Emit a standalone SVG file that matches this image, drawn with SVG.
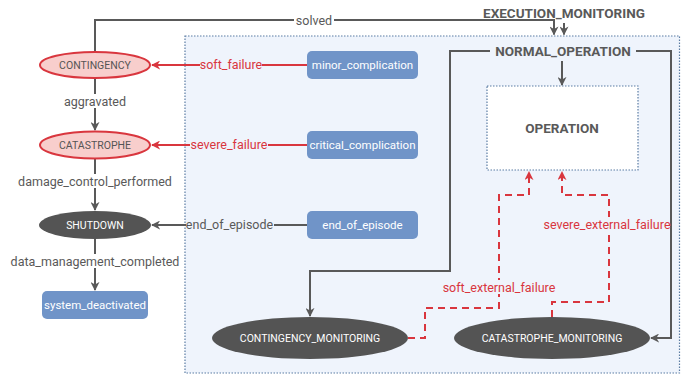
<svg xmlns="http://www.w3.org/2000/svg" width="681" height="375" viewBox="0 0 681 375">
<defs>
<marker id="ag" viewBox="0 0 10 10" refX="9" refY="5" markerWidth="9" markerHeight="9" markerUnits="userSpaceOnUse" orient="auto"><path d="M0,0 L10,5 L0,10 L3,5 Z" fill="#595959"/></marker>
<marker id="ar" viewBox="0 0 10 10" refX="9" refY="5" markerWidth="9" markerHeight="9" markerUnits="userSpaceOnUse" orient="auto"><path d="M0,0 L10,5 L0,10 L3,5 Z" fill="#d9363e"/></marker>
</defs>
<style>
text{font-family:Roboto,"Liberation Sans",sans-serif;}
.lbl{font-size:12.5px;fill:#595959;text-anchor:middle;dominant-baseline:central;}
.rl{font-size:12.5px;fill:#d9363e;text-anchor:middle;dominant-baseline:central;}
.g{fill:none;stroke:#595959;stroke-width:2;}
.r{fill:none;stroke:#d9363e;stroke-width:2;}
.rd{fill:none;stroke:#d9363e;stroke-width:2;stroke-dasharray:7,5;}
.red{fill:#f8cecc;stroke:#d9363e;stroke-width:2;}
.dark{fill:#545454;}
.blue{fill:#7094c8;}
.nt{font-size:10.5px;fill:#555;text-anchor:middle;dominant-baseline:central;}
.wt{font-size:10.5px;fill:#fff;text-anchor:middle;dominant-baseline:central;}
.bt{font-size:11.5px;fill:#fff;text-anchor:middle;dominant-baseline:central;}
.hd{font-size:13.5px;font-weight:bold;fill:#595959;text-anchor:middle;dominant-baseline:central;}
</style>
<g id="EXECUTION_MONITORING">
<rect x="185" y="36" width="494.5" height="337" fill="#eff4fc" stroke="#5b7ca3" stroke-width="1.2" stroke-dasharray="1.5,1.5"/>
<text class="hd" x="564" y="13">EXECUTION_MONITORING</text>
</g>
<g id="OPERATION">
<rect x="487" y="86" width="151" height="84" fill="#fff" stroke="#5b7ca3" stroke-width="1.2" stroke-dasharray="1.5,1.5"/>
<text class="hd" x="562" y="128">OPERATION</text>
</g>
<g id="edges">
<path class="g" d="M95,52 V20 H554 V34.5" marker-end="url(#ag)"/>
<rect x="294" y="13" width="40" height="14" fill="#fff"/>
<text class="lbl" x="314" y="20">solved</text>
<path class="g" d="M564,23 V34.5" marker-end="url(#ag)"/>
<path class="g" d="M562,61 V85" marker-end="url(#ag)"/>
<path class="g" d="M490,51 H450 V271 H310 V316" marker-end="url(#ag)"/>
<path class="g" d="M636,51 H671 V338 H651" marker-end="url(#ag)"/>
<path class="r" d="M307,65 H152" marker-end="url(#ar)"/>
<rect x="200" y="58" width="62" height="14" fill="#eff4fc"/>
<text class="rl" x="231" y="64">soft_failure</text>
<path class="r" d="M307,145 H152" marker-end="url(#ar)"/>
<rect x="190" y="138" width="78" height="14" fill="#eff4fc"/>
<text class="rl" x="229" y="144">severe_failure</text>
<path class="g" d="M307,225 H152" marker-end="url(#ag)"/>
<rect x="186" y="218" width="88" height="14" fill="#eff4fc"/>
<text class="lbl" x="229.5" y="224">end_of_episode</text>
<path class="g" d="M95,78 V130" marker-end="url(#ag)"/>
<rect x="60" y="94" width="70" height="14" fill="#fff"/>
<text class="lbl" x="95" y="101">aggravated</text>
<path class="g" d="M95,159 V210" marker-end="url(#ag)"/>
<rect x="20" y="174" width="150" height="14" fill="#fff"/>
<text class="lbl" x="95" y="181">damage_control_performed</text>
<path class="g" d="M95,239 V290" marker-end="url(#ag)"/>
<rect x="12" y="254" width="166" height="14" fill="#fff"/>
<text class="lbl" x="95" y="261">data_management_completed</text>
<path class="rd" d="M408,338 H425 V308 H499 V195 H529 V172" marker-end="url(#ar)"/>
<rect x="443" y="280" width="112" height="14" fill="#eff4fc"/>
<text class="rl" x="499" y="287">soft_external_failure</text>
<path class="rd" d="M552,317 V302 H609 V195 H562 V172" marker-end="url(#ar)"/>
<rect x="545" y="217" width="124" height="14" fill="#eff4fc"/>
<text class="rl" x="607" y="224">severe_external_failure</text>
</g>
<g id="NORMAL_OPERATION">
<text class="hd" x="563" y="51">NORMAL_OPERATION</text>
</g>
<g id="CONTINGENCY">
<ellipse class="red" cx="95" cy="65" rx="55" ry="13"/>
<text class="nt" x="95" y="65">CONTINGENCY</text>
</g>
<g id="CATASTROPHE">
<ellipse class="red" cx="95" cy="145" rx="55" ry="13.5"/>
<text class="nt" x="95" y="145">CATASTROPHE</text>
</g>
<g id="SHUTDOWN">
<ellipse class="dark" cx="95" cy="225" rx="56" ry="14"/>
<text class="wt" x="95" y="225">SHUTDOWN</text>
</g>
<g id="system_deactivated">
<rect class="blue" x="42" y="291" width="106" height="28" rx="5"/>
<text class="bt" x="95" y="305">system_deactivated</text>
</g>
<g id="minor_complication">
<rect class="blue" x="307" y="51" width="111" height="28" rx="5"/>
<text class="bt" x="362.5" y="65">minor_complication</text>
</g>
<g id="critical_complication">
<rect class="blue" x="307" y="131" width="111" height="28" rx="5"/>
<text class="bt" x="362.5" y="145">critical_complication</text>
</g>
<g id="end_of_episode">
<rect class="blue" x="307" y="211" width="111" height="28" rx="5"/>
<text class="bt" x="362.5" y="225">end_of_episode</text>
</g>
<g id="CONTINGENCY_MONITORING">
<ellipse class="dark" cx="310" cy="338" rx="98" ry="21"/>
<text class="wt" x="310" y="338">CONTINGENCY_MONITORING</text>
</g>
<g id="CATASTROPHE_MONITORING">
<ellipse class="dark" cx="552" cy="338" rx="98" ry="21"/>
<text class="wt" x="552" y="338">CATASTROPHE_MONITORING</text>
</g>
</svg>
